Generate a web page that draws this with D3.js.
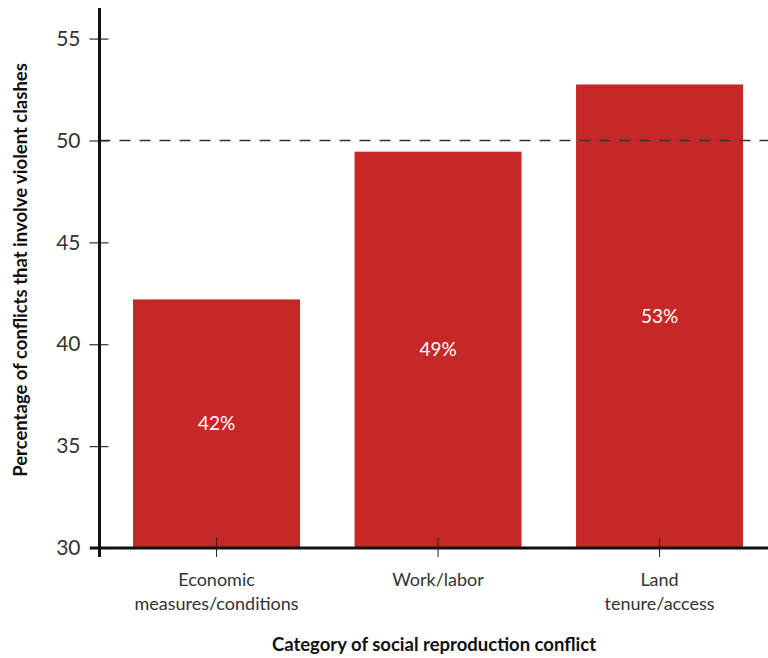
<!DOCTYPE html>
<html>
<head>
<meta charset="utf-8">
<script src="https://cdn.jsdelivr.net/npm/d3@7"></script>
<style>
  html, body { margin: 0; padding: 0; background: #fff; }
  svg { display: block; font-family: "Lato", "Noto Sans", sans-serif; }
</style>
</head>
<body>
<svg id="chart" width="768" height="658"></svg>
<script>
// Share of conflicts involving violent clashes, by conflict category
const categories = ["Economic\nmeasures/conditions", "Work/labor", "Land\ntenure/access"];
const violentShare = [42.2, 49.45, 52.75];
const yTicks = [30, 35, 40, 45, 50, 55];
const referenceLevel = 50;

const svg = d3.select("#chart");
const W = 768, H = 658;
const axisX = 99.5, baseY = 548;

const y = d3.scaleLinear().domain([30, 55]).range([baseY, 38.6]);
const x = d3.scaleBand().domain(categories).range([105.8, 770.3]).paddingInner(0.246).paddingOuter(0.123);

// bars
svg.append("g").selectAll("rect").data(violentShare).join("rect")
  .attr("x", (d, i) => x(categories[i]))
  .attr("width", x.bandwidth())
  .attr("y", d => y(d))
  .attr("height", d => y(30) - y(d))
  .attr("fill", "#c62828");

// value labels in bar middles
svg.append("g").selectAll("text").data(violentShare).join("text")
  .attr("x", (d, i) => x(categories[i]) + x.bandwidth() / 2)
  .attr("y", d => (y(d) + y(30)) / 2)
  .attr("dy", "0.35em")
  .attr("text-anchor", "middle")
  .attr("fill", "#fff")
  .attr("font-size", 19)
  .text(d => Math.round(d) + "%");

// dashed 50% reference line
svg.append("line")
  .attr("x1", axisX).attr("x2", W)
  .attr("y1", y(referenceLevel)).attr("y2", y(referenceLevel))
  .attr("stroke", "#333").attr("stroke-width", 1.3)
  .attr("stroke-dasharray", "11,9");

// y axis
const yAxis = d3.axisLeft(y).tickValues(yTicks).tickSize(0).tickPadding(19);
const gy = svg.append("g").attr("transform", `translate(${axisX},0)`).call(yAxis);
gy.select(".domain").remove();
gy.selectAll("text").attr("font-size", 21).attr("fill", "#333").attr("font-family", "Lato, sans-serif");
gy.selectAll(".tick").append("line")
  .attr("x1", -10).attr("x2", 9)
  .attr("stroke", "#333").attr("stroke-width", 1.2);
svg.append("line")
  .attr("x1", axisX).attr("x2", axisX)
  .attr("y1", 8).attr("y2", 557)
  .attr("stroke", "#111").attr("stroke-width", 3);

// x axis
svg.append("line")
  .attr("x1", 90).attr("x2", W)
  .attr("y1", baseY).attr("y2", baseY)
  .attr("stroke", "#111").attr("stroke-width", 3);
const gx = svg.append("g");
categories.forEach(c => {
  const cx = x(c) + x.bandwidth() / 2;
  gx.append("line")
    .attr("x1", cx).attr("x2", cx)
    .attr("y1", 538).attr("y2", 557)
    .attr("stroke", "#222").attr("stroke-width", 1);
  const t = gx.append("text")
    .attr("x", cx).attr("y", 586)
    .attr("text-anchor", "middle")
    .attr("font-size", 18).attr("fill", "#333");
  c.split("\n").forEach((line, i) => {
    t.append("tspan").attr("x", cx).attr("dy", i === 0 ? 0 : 24).text(line);
  });
});

// axis titles
svg.append("text")
  .attr("x", 434).attr("y", 651)
  .attr("text-anchor", "middle")
  .attr("font-size", 18.5).attr("font-weight", "bold").attr("fill", "#111")
  .text("Category of social reproduction conflict");

svg.append("text")
  .attr("transform", "translate(27,270) rotate(-90)")
  .attr("text-anchor", "middle")
  .attr("font-size", 18.5).attr("font-weight", "bold").attr("fill", "#111")
  .text("Percentage of conflicts that involve violent clashes");
</script>
</body>
</html>
